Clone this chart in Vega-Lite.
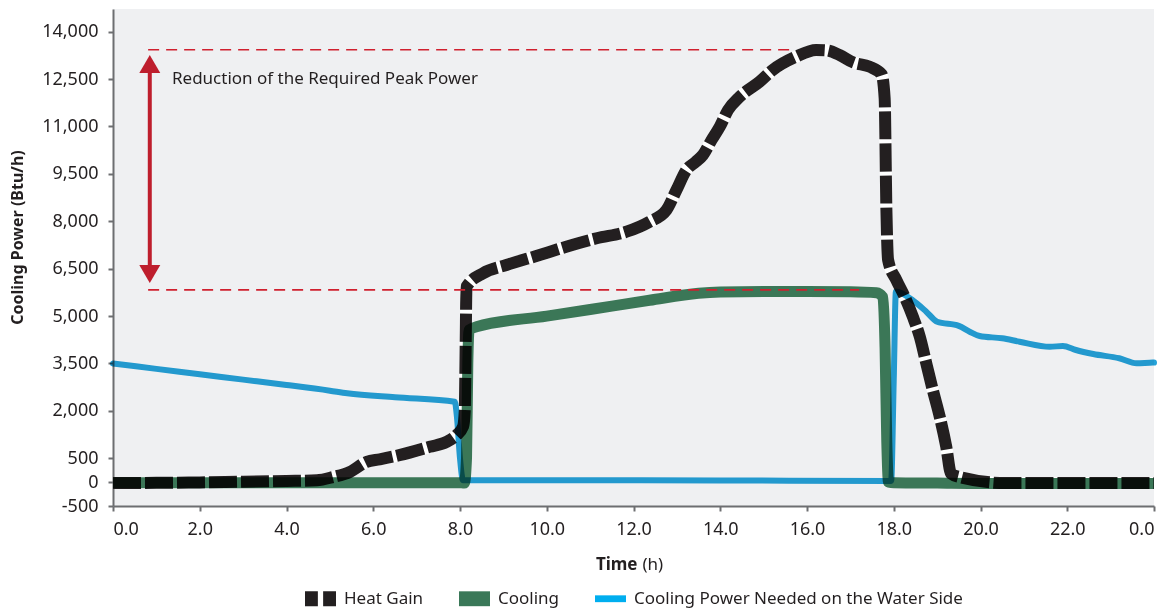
{
  "$schema": "https://vega.github.io/schema/vega-lite/v6.json",
  "width": 1041,
  "height": 497,
  "autosize": {"type": "none"},
  "padding": {"left": 113, "top": 9, "right": 11, "bottom": 103},
  "background": "#ffffff",
  "config": {
    "font": "Noto Sans",
    "view": {"fill": "#eff0f2", "stroke": null},
    "axis": {
      "grid": false,
      "domainColor": "#6d6e71",
      "domainWidth": 2,
      "tickColor": "#6d6e71",
      "tickWidth": 2,
      "tickSize": 5,
      "labelColor": "#231f20",
      "labelFontSize": 18,
      "titleColor": "#231f20"
    }
  },
  "datasets": {
    "curves": [
      {"t": 0, "v": -20, "series": "Heat Gain"},
      {"t": 1, "v": -15, "series": "Heat Gain"},
      {"t": 2, "v": -5, "series": "Heat Gain"},
      {"t": 3, "v": 10, "series": "Heat Gain"},
      {"t": 4, "v": 25, "series": "Heat Gain"},
      {"t": 4.7, "v": 40, "series": "Heat Gain"},
      {"t": 5.07, "v": 107, "series": "Heat Gain"},
      {"t": 5.46, "v": 214, "series": "Heat Gain"},
      {"t": 5.85, "v": 427, "series": "Heat Gain"},
      {"t": 6.15, "v": 478, "series": "Heat Gain"},
      {"t": 6.6, "v": 600, "series": "Heat Gain"},
      {"t": 7.3, "v": 863, "series": "Heat Gain"},
      {"t": 7.69, "v": 1021, "series": "Heat Gain"},
      {"t": 7.92, "v": 1233, "series": "Heat Gain"},
      {"t": 8.07, "v": 1500, "series": "Heat Gain"},
      {"t": 8.11, "v": 2000, "series": "Heat Gain"},
      {"t": 8.13, "v": 4000, "series": "Heat Gain"},
      {"t": 8.15, "v": 5930, "series": "Heat Gain"},
      {"t": 8.53, "v": 6354, "series": "Heat Gain"},
      {"t": 9.07, "v": 6617, "series": "Heat Gain"},
      {"t": 9.76, "v": 6902, "series": "Heat Gain"},
      {"t": 10.45, "v": 7196, "series": "Heat Gain"},
      {"t": 11.15, "v": 7462, "series": "Heat Gain"},
      {"t": 11.84, "v": 7671, "series": "Heat Gain"},
      {"t": 12.37, "v": 7987, "series": "Heat Gain"},
      {"t": 12.76, "v": 8358, "series": "Heat Gain"},
      {"t": 12.99, "v": 8991, "series": "Heat Gain"},
      {"t": 13.22, "v": 9623, "series": "Heat Gain"},
      {"t": 13.44, "v": 9886, "series": "Heat Gain"},
      {"t": 13.6, "v": 10098, "series": "Heat Gain"},
      {"t": 13.8, "v": 10573, "series": "Heat Gain"},
      {"t": 13.99, "v": 10994, "series": "Heat Gain"},
      {"t": 14.18, "v": 11522, "series": "Heat Gain"},
      {"t": 14.45, "v": 11943, "series": "Heat Gain"},
      {"t": 14.91, "v": 12418, "series": "Heat Gain"},
      {"t": 15.21, "v": 12788, "series": "Heat Gain"},
      {"t": 15.75, "v": 13209, "series": "Heat Gain"},
      {"t": 16.21, "v": 13421, "series": "Heat Gain"},
      {"t": 16.44, "v": 13410, "series": "Heat Gain"},
      {"t": 16.75, "v": 13263, "series": "Heat Gain"},
      {"t": 17.06, "v": 13031, "series": "Heat Gain"},
      {"t": 17.44, "v": 12892, "series": "Heat Gain"},
      {"t": 17.72, "v": 12650, "series": "Heat Gain"},
      {"t": 17.79, "v": 11900, "series": "Heat Gain"},
      {"t": 17.83, "v": 8400, "series": "Heat Gain"},
      {"t": 17.87, "v": 6775, "series": "Heat Gain"},
      {"t": 18.06, "v": 6142, "series": "Heat Gain"},
      {"t": 18.25, "v": 5614, "series": "Heat Gain"},
      {"t": 18.44, "v": 4981, "series": "Heat Gain"},
      {"t": 18.6, "v": 4348, "series": "Heat Gain"},
      {"t": 18.75, "v": 3506, "series": "Heat Gain"},
      {"t": 18.9, "v": 2661, "series": "Heat Gain"},
      {"t": 19.06, "v": 1816, "series": "Heat Gain"},
      {"t": 19.21, "v": 867, "series": "Heat Gain"},
      {"t": 19.32, "v": 180, "series": "Heat Gain"},
      {"t": 19.52, "v": 107, "series": "Heat Gain"},
      {"t": 20.59, "v": -20, "series": "Heat Gain"},
      {"t": 22, "v": -20, "series": "Heat Gain"},
      {"t": 24, "v": -20, "series": "Heat Gain"},

      {"t": 0, "v": -10, "series": "Cooling"},
      {"t": 4, "v": -10, "series": "Cooling"},
      {"t": 8.0, "v": -10, "series": "Cooling"},
      {"t": 8.1, "v": -20, "series": "Cooling"},
      {"t": 8.15, "v": 500, "series": "Cooling"},
      {"t": 8.18, "v": 3500, "series": "Cooling"},
      {"t": 8.21, "v": 4560, "series": "Cooling"},
      {"t": 8.38, "v": 4660, "series": "Cooling"},
      {"t": 10, "v": 5000, "series": "Cooling"},
      {"t": 11, "v": 5210, "series": "Cooling"},
      {"t": 12.37, "v": 5500, "series": "Cooling"},
      {"t": 13.5, "v": 5720, "series": "Cooling"},
      {"t": 14, "v": 5760, "series": "Cooling"},
      {"t": 15, "v": 5780, "series": "Cooling"},
      {"t": 16, "v": 5780, "series": "Cooling"},
      {"t": 17, "v": 5770, "series": "Cooling"},
      {"t": 17.6, "v": 5740, "series": "Cooling"},
      {"t": 17.75, "v": 5600, "series": "Cooling"},
      {"t": 17.8, "v": 4000, "series": "Cooling"},
      {"t": 17.84, "v": 1000, "series": "Cooling"},
      {"t": 17.88, "v": 0, "series": "Cooling"},
      {"t": 18, "v": -10, "series": "Cooling"},
      {"t": 19, "v": -20, "series": "Cooling"},
      {"t": 20, "v": -30, "series": "Cooling"},
      {"t": 24, "v": -30, "series": "Cooling"},

      {"t": 0, "v": 3500, "series": "Cooling Power Needed on the Water Side"},
      {"t": 1, "v": 3330, "series": "Cooling Power Needed on the Water Side"},
      {"t": 2, "v": 3160, "series": "Cooling Power Needed on the Water Side"},
      {"t": 3, "v": 2990, "series": "Cooling Power Needed on the Water Side"},
      {"t": 4, "v": 2820, "series": "Cooling Power Needed on the Water Side"},
      {"t": 5, "v": 2640, "series": "Cooling Power Needed on the Water Side"},
      {"t": 5.4, "v": 2560, "series": "Cooling Power Needed on the Water Side"},
      {"t": 6.5, "v": 2430, "series": "Cooling Power Needed on the Water Side"},
      {"t": 7.88, "v": 2290, "series": "Cooling Power Needed on the Water Side"},
      {"t": 7.93, "v": 1800, "series": "Cooling Power Needed on the Water Side"},
      {"t": 8.0, "v": 500, "series": "Cooling Power Needed on the Water Side"},
      {"t": 8.07, "v": 40, "series": "Cooling Power Needed on the Water Side"},
      {"t": 10, "v": 40, "series": "Cooling Power Needed on the Water Side"},
      {"t": 14, "v": 35, "series": "Cooling Power Needed on the Water Side"},
      {"t": 17.94, "v": 25, "series": "Cooling Power Needed on the Water Side"},
      {"t": 18.0, "v": 3000, "series": "Cooling Power Needed on the Water Side"},
      {"t": 18.05, "v": 5780, "series": "Cooling Power Needed on the Water Side"},
      {"t": 18.43, "v": 5510, "series": "Cooling Power Needed on the Water Side"},
      {"t": 18.75, "v": 5140, "series": "Cooling Power Needed on the Water Side"},
      {"t": 19.0, "v": 4823, "series": "Cooling Power Needed on the Water Side"},
      {"t": 19.5, "v": 4690, "series": "Cooling Power Needed on the Water Side"},
      {"t": 19.75, "v": 4506, "series": "Cooling Power Needed on the Water Side"},
      {"t": 19.98, "v": 4370, "series": "Cooling Power Needed on the Water Side"},
      {"t": 20.5, "v": 4297, "series": "Cooling Power Needed on the Water Side"},
      {"t": 20.9, "v": 4190, "series": "Cooling Power Needed on the Water Side"},
      {"t": 21.6, "v": 4030, "series": "Cooling Power Needed on the Water Side"},
      {"t": 21.9, "v": 4054, "series": "Cooling Power Needed on the Water Side"},
      {"t": 22.2, "v": 3927, "series": "Cooling Power Needed on the Water Side"},
      {"t": 22.6, "v": 3800, "series": "Cooling Power Needed on the Water Side"},
      {"t": 23.2, "v": 3665, "series": "Cooling Power Needed on the Water Side"},
      {"t": 23.6, "v": 3506, "series": "Cooling Power Needed on the Water Side"},
      {"t": 23.9, "v": 3525, "series": "Cooling Power Needed on the Water Side"},
      {"t": 24, "v": 3530, "series": "Cooling Power Needed on the Water Side"}
    ],
    "levels": [
      {"t": 0.81, "t2": 15.7, "v": 13430},
      {"t": 0.81, "t2": 17.2, "v": 5830}
    ],
    "shaft": [
      {"t": 0.848, "v": 12750, "v2": 6550}
    ],
    "heads": [
      {"t": 0.848, "v": 13263, "dir": "up"},
      {"t": 0.848, "v": 6047, "dir": "down"}
    ],
    "notes": [
      {"t": 1.36, "v": 12500, "label": "Reduction of the Required Peak Power"}
    ]
  },
  "layer": [
    {
      "layer": [
        {
          "data": {"name": "curves"},
          "transform": [{"filter": "datum.series === 'Heat Gain'"}],
          "mark": {"type": "line", "interpolate": "monotone", "stroke": "#ffffff", "strokeWidth": 12},
          "encoding": {
            "x": {
              "field": "t", "type": "quantitative",
              "scale": {"domain": [0, 24], "nice": false, "zero": false},
              "axis": {
                "values": [0, 2, 4, 6, 8, 10, 12, 14, 16, 18, 20, 22, 24],
                "labelExpr": "datum.value == 24 ? '0.0' : format(datum.value, '.1f')",
                "labelPadding": 9,
                "title": "Time",
                "titleFontSize": 17,
                "titleFontWeight": "bold",
                "titleAlign": "right",
                "titleBaseline": "alphabetic",
                "titleX": 524,
                "titleY": 63
              }
            },
            "y": {
              "field": "v", "type": "quantitative",
              "scale": {"type": "linear", "domain": [-500, 500, 14718], "range": [497, 449.3, 0], "nice": false, "zero": false},
              "axis": {
                "values": [-500, 0, 500, 2000, 3500, 5000, 6500, 8000, 9500, 11000, 12500, 14000],
                "labelExpr": "replace(format(datum.value, ','), '\u2212', '-')",
                "labelPadding": 10,
                "title": "Cooling Power (Btu/h)",
                "titleFontSize": 16,
                "titleFontWeight": "bold",
                "titleAngle": -90,
                "titleAlign": "center",
                "titleBaseline": "middle",
                "titleX": -96,
                "titleY": 228
              }
            }
          }
        },
        {
          "data": {"name": "curves"},
          "transform": [{"filter": "datum.series === 'Cooling'"}],
          "mark": {"type": "line", "interpolate": "monotone", "strokeWidth": 11, "strokeJoin": "round"},
          "encoding": {
            "x": {"field": "t", "type": "quantitative"},
            "y": {"field": "v", "type": "quantitative"},
            "color": {
              "field": "series", "type": "nominal",
              "scale": {
                "domain": ["Heat Gain", "Cooling", "Cooling Power Needed on the Water Side"],
                "range": ["#231f20", "#3b7757", "#25a3d9"]
              },
              "legend": {
                "orient": "none",
                "legendX": 192,
                "legendY": 574,
                "direction": "horizontal",
                "title": null,
                "symbolSize": 961,
                "symbolStrokeWidth": 0,
                "labelFontSize": 17,
                "labelColor": "#231f20",
                "labelOffset": 8,
                "labelLimit": 500,
                "columnPadding": 35,
                "encode": {
                  "symbols": {
                    "update": {
                      "shape": {"signal": "datum.value === 'Heat Gain' ? 'M-1,-0.48H-0.17V0.48H-1Z M0.17,-0.48H1V0.48H0.17Z' : datum.value === 'Cooling' ? 'M-1,-0.48H1V0.48H-1Z' : 'M-1,-0.22H1V0.22H-1Z'"},
                      "fill": {"signal": "datum.value === 'Heat Gain' ? '#231f20' : datum.value === 'Cooling' ? '#3a7858' : '#00aeef'"},
                      "stroke": {"value": "transparent"},
                      "opacity": {"value": 1}
                    }
                  }
                }
              }
            }
          }
        },
        {
          "data": {"name": "curves"},
          "transform": [{"filter": "datum.series === 'Cooling Power Needed on the Water Side'"}],
          "mark": {"type": "line", "interpolate": "monotone", "strokeWidth": 6, "strokeCap": "round", "blend": "multiply"},
          "encoding": {
            "x": {"field": "t", "type": "quantitative"},
            "y": {"field": "v", "type": "quantitative"},
            "color": {"field": "series", "type": "nominal"}
          }
        },
        {
          "data": {"name": "curves"},
          "transform": [{"filter": "datum.series === 'Heat Gain'"}],
          "mark": {"type": "line", "interpolate": "monotone", "strokeWidth": 12, "strokeDash": [28, 4], "blend": "multiply"},
          "encoding": {
            "x": {"field": "t", "type": "quantitative"},
            "y": {"field": "v", "type": "quantitative"},
            "color": {"field": "series", "type": "nominal"}
          }
        },
        {
          "data": {"name": "levels"},
          "mark": {"type": "rule", "color": "#d0202f", "strokeWidth": 1.6, "strokeDash": [11, 7]},
          "encoding": {
            "x": {"field": "t", "type": "quantitative"},
            "x2": {"field": "t2"},
            "y": {"field": "v", "type": "quantitative"}
          }
        },
        {
          "data": {"name": "shaft"},
          "mark": {"type": "rule", "color": "#be1e2d", "strokeWidth": 4},
          "encoding": {
            "x": {"field": "t", "type": "quantitative"},
            "y": {"field": "v", "type": "quantitative"},
            "y2": {"field": "v2"}
          }
        },
        {
          "data": {"name": "heads"},
          "mark": {"type": "point", "filled": true, "color": "#be1e2d", "opacity": 1, "size": 400},
          "encoding": {
            "x": {"field": "t", "type": "quantitative"},
            "y": {"field": "v", "type": "quantitative"},
            "shape": {
              "field": "dir", "type": "nominal",
              "scale": {"domain": ["up", "down"], "range": ["M0,0L1.05,1.8L-1.05,1.8Z", "M0,0L1.05,-1.8L-1.05,-1.8Z"]},
              "legend": null
            }
          }
        }
      ]
    },
    {
      "data": {"name": "notes"},
      "mark": {"type": "text", "align": "left", "baseline": "middle", "fontSize": 17, "color": "#231f20"},
      "encoding": {
        "x": {
          "field": "t", "type": "quantitative",
          "axis": {
            "orient": "bottom",
            "title": "(h)",
            "titleFontSize": 17,
            "titleFontWeight": "normal",
            "titleAlign": "left",
            "titleBaseline": "alphabetic",
            "titleX": 529,
            "titleY": 63,
            "labels": false,
            "ticks": false,
            "domain": false
          }
        },
        "y": {"field": "v", "type": "quantitative"},
        "text": {"field": "label"}
      }
    }
  ],
  "resolve": {"axis": {"x": "independent"}}
}
